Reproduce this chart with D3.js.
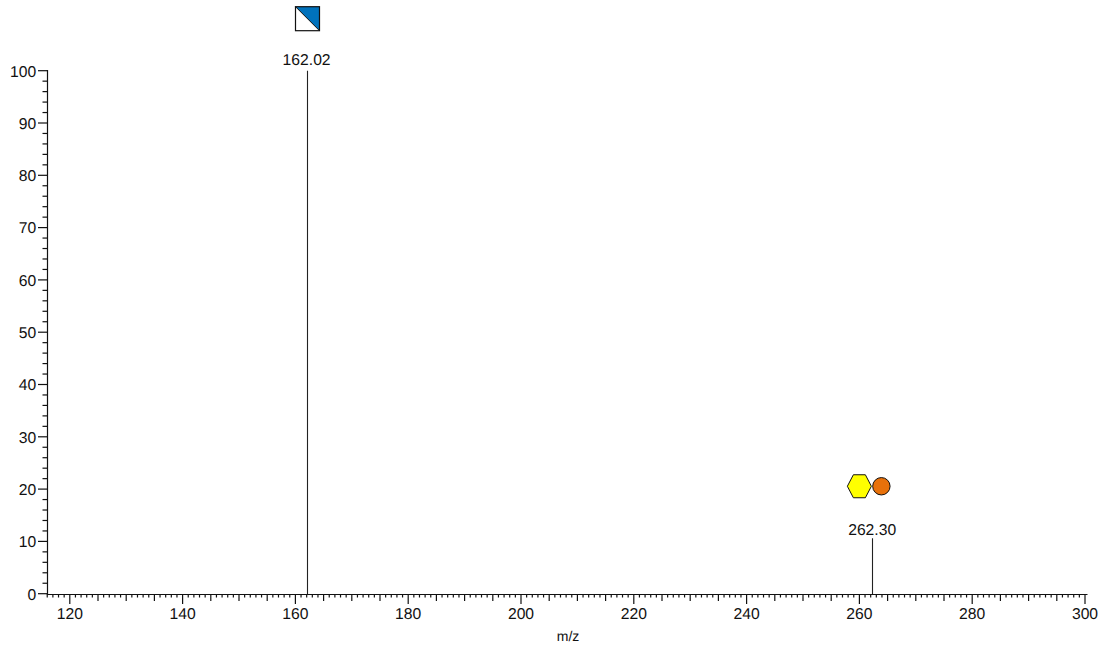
<!DOCTYPE html>
<html><head><meta charset="utf-8">
<script src="https://cdn.jsdelivr.net/npm/d3@7"></script>
<style>html,body{margin:0;padding:0;background:#fff}svg{display:block}text{font-family:"Liberation Sans",Arial,sans-serif;fill:#111;text-rendering:geometricPrecision}</style>
</head><body><svg id="c" width="1103" height="647"></svg>
<script>
const peakMz=[162.02,262.30];
const peakIntensity=[100,10.6];
const peakLabels=["162.02","262.30"];
const xTickValues=[120,140,160,180,200,220,240,260,280,300];
const yTickValues=[0,10,20,30,40,50,60,70,80,90,100];
const xTitle="m/z";

const svg=d3.select("#c");
const x=d3.scaleLinear().domain([120,300]).range([69.8,1085]);
const y=d3.scaleLinear().domain([0,100]).range([593.7,70.7]);
const axisColor="#111";
const axisWidth=1.2;
const xStart=47.5,xEnd=1087.5;
const g=svg.append("g");

// y axis
const yMinor=d3.range(0,101,2);
g.append("g").selectAll("line").data(yMinor).join("line")
 .attr("x1",d=>d%10===0?38:42.5).attr("x2",xStart)
 .attr("y1",d=>y(d)).attr("y2",d=>y(d))
 .attr("stroke",axisColor).attr("stroke-width",axisWidth);
g.append("line").attr("x1",xStart).attr("x2",xStart)
 .attr("y1",y(100)-.6).attr("y2",595).attr("stroke",axisColor).attr("stroke-width",axisWidth);
g.append("g").selectAll("text").data(yTickValues).join("text")
 .attr("x",36.3).attr("y",d=>y(d)+5.8).attr("text-anchor","end")
 .attr("font-size",15.7).text(d=>d);

// x axis
const xMinor=d3.range(116,301,1);
g.append("g").selectAll("line").data(xMinor).join("line")
 .attr("x1",d=>x(d)).attr("x2",d=>x(d))
 .attr("y1",594).attr("y2",d=>d%20===0?604:d%5===0?601:597.5)
 .attr("stroke",axisColor).attr("stroke-width",axisWidth);
g.append("line").attr("x1",xStart).attr("x2",xEnd)
 .attr("y1",594.5).attr("y2",594.5).attr("stroke",axisColor).attr("stroke-width",axisWidth);
g.append("g").selectAll("text").data(xTickValues).join("text")
 .attr("x",d=>x(d)).attr("y",619).attr("text-anchor","middle")
 .attr("font-size",15.7).text(d=>d);
g.append("text").attr("x",568).attr("y",641).attr("text-anchor","middle")
 .attr("font-size",14).text(xTitle);

// peaks
const peaks=peakMz.map((m,i)=>({m,v:peakIntensity[i],l:peakLabels[i],gap:i===0?5.5:3.5}));
g.append("g").selectAll("line").data(peaks).join("line")
 .attr("x1",d=>Math.round(x(d.m))+.5).attr("x2",d=>Math.round(x(d.m))+.5)
 .attr("y1",d=>y(d.v)).attr("y2",594).attr("stroke","#222").attr("stroke-width",1.1);
g.append("g").selectAll("text").data(peaks).join("text")
 .attr("x",d=>x(d.m)-.2).attr("y",d=>y(d.v)-d.gap).attr("text-anchor","middle")
 .attr("font-size",15.7).text(d=>d.l);

// glycan glyphs
const p0=x(peakMz[0]), gy0=y(peakIntensity[0])-52;
const s=g.append("g").attr("transform",`translate(${Math.round(p0)+.5},${gy0})`);
s.append("rect").attr("x",-12).attr("y",-12).attr("width",24).attr("height",24).attr("fill","#fff");
s.append("path").attr("d","M-12,-12L12,-12L12,12Z").attr("fill","#0072BC");
s.append("rect").attr("x",-12).attr("y",-12).attr("width",24).attr("height",24).attr("fill","none").attr("stroke","#111").attr("stroke-width",1.2);
s.append("line").attr("x1",-12).attr("y1",-12).attr("x2",12).attr("y2",12).attr("stroke","#111");

const p1=x(peakMz[1]), gy1=y(peakIntensity[1])-52;
const h=g.append("g").attr("transform",`translate(${p1-13},${gy1})`);
h.append("path").attr("d","M-12,0L-6,-11.5L6,-11.5L12,0L6,11.5L-6,11.5Z")
 .attr("fill","#FFFF00").attr("stroke","#111").attr("stroke-width",1);
g.append("circle").attr("cx",p1+9).attr("cy",gy1).attr("r",8.7)
 .attr("fill","#E8710A").attr("stroke","#111").attr("stroke-width",1);
</script></body></html>
